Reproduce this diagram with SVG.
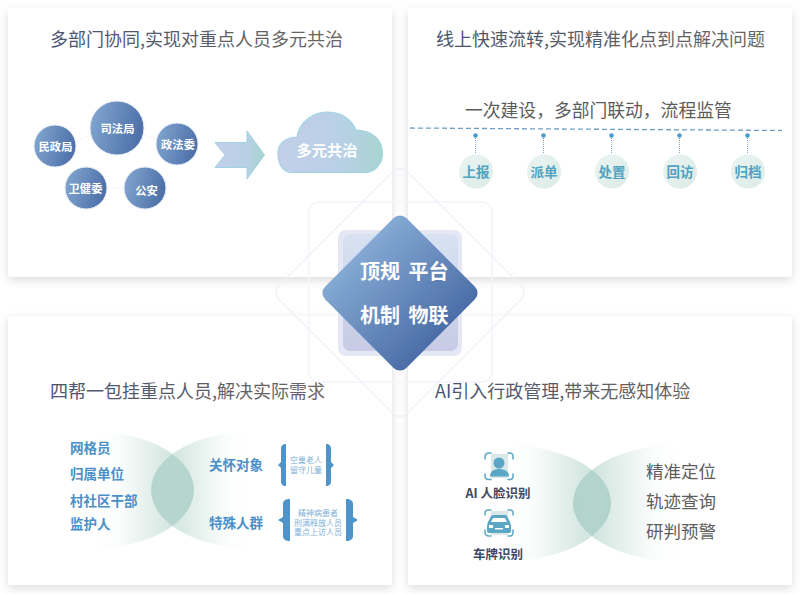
<svg xmlns="http://www.w3.org/2000/svg" width="800" height="594" viewBox="0 0 800 594">
<style>
text{font-family:"Noto Sans CJK SC","Noto Sans",sans-serif}
.card{fill:#fff;filter:url(#sh)}
.title{font-size:18px;fill:url(#tg)}
.bub{fill:url(#bg);stroke:#e6edf6;stroke-width:1}
.bt{fill:#fff;font-size:11.300px;font-weight:700;text-anchor:middle}
.dot{fill:#4a9bd0}
.stem{stroke:#7fa9c8;stroke-width:1;stroke-dasharray:1 1}
.step{fill:url(#sg)}
.st{font-size:13.500px;fill:#4fa3c2;text-anchor:middle;font-weight:700}
.bl{font-size:13.500px;font-weight:700;fill:#4a90c8}
.sm{font-size:8px;fill:#80b1d8;text-anchor:middle}
.br{fill:#4f94c9}
.dk{font-size:12.500px;font-weight:700;fill:#3e4a66;text-anchor:middle}
.gr{font-size:17.500px;fill:#5e5e5e}
.cw{fill:#fff;font-size:20px;font-weight:700}
.ic{fill:none;stroke:#5aa9c6;stroke-width:1.500;stroke-linecap:round}
.if{fill:#5aa6c4}
</style>
<defs>
<filter id="sh" x="-10%" y="-10%" width="120%" height="120%"><feDropShadow dx="0" dy="3" stdDeviation="5" flood-color="#000" flood-opacity=".14"/></filter>
<linearGradient id="tg" x1="0" x2="1" y1="0" y2="0"><stop offset="0" stop-color="#475472"/><stop offset="1" stop-color="#6b6661"/></linearGradient>
<linearGradient id="bg" x1="0" x2="1" y1="0" y2=".25"><stop offset="0" stop-color="#85a9d2"/><stop offset="1" stop-color="#4f72aa"/></linearGradient>
<linearGradient id="ag" x1="0" x2="1" y1="0" y2="0"><stop offset="0" stop-color="#c3cfe8"/><stop offset=".6" stop-color="#b8d0e6"/><stop offset="1" stop-color="#a8d4d0"/></linearGradient>
<linearGradient id="sg" x1="0" x2="1" y1="0" y2="1"><stop offset="0" stop-color="#e9f4f2"/><stop offset="1" stop-color="#dcece7"/></linearGradient>
<linearGradient id="dg" x1="0" x2="1" y1="0" y2="0"><stop offset="0" stop-color="#84a9d3"/><stop offset="1" stop-color="#4c6ea8"/></linearGradient>
<linearGradient id="qg" x1="0" x2="0" y1="0" y2="1"><stop offset="0" stop-color="#d8e2f2"/><stop offset="1" stop-color="#c7cbe5"/></linearGradient>
<linearGradient id="lf" x1="0" x2="1" y1="0" y2="0"><stop offset="0" stop-color="#8fbfb2" stop-opacity="0"/><stop offset=".25" stop-color="#8fbfb2" stop-opacity=".04"/><stop offset="1" stop-color="#8fbfb2" stop-opacity=".55"/></linearGradient>
<linearGradient id="rf" x1="1" x2="0" y1="0" y2="0"><stop offset="0" stop-color="#8fbfb2" stop-opacity="0"/><stop offset=".25" stop-color="#8fbfb2" stop-opacity=".04"/><stop offset="1" stop-color="#8fbfb2" stop-opacity=".55"/></linearGradient>
</defs>

<g id="cards">
<rect class="card" x="8" y="8" width="384" height="269" rx="3"/>
<rect class="card" x="408" y="8" width="384" height="269" rx="3"/>
<rect class="card" x="8" y="316" width="384" height="269" rx="3"/>
<rect class="card" x="408" y="316" width="384" height="269" rx="3"/>
</g>

<g id="center-backdrop" fill="none">
<rect x="309" y="202" width="183" height="180" rx="10" stroke="#f4f5fb" stroke-width="1.500"/>
<rect x="309.500" y="202" width="181" height="181" rx="10" stroke="#eff1f8" stroke-width="1.500" transform="rotate(45 400 292.500)"/>
</g>

<g id="title-1"><text class="title" x="50" y="46">多部门协同,实现对重点人员多元共治</text></g>
<g id="title-2"><text class="title" x="436" y="46">线上快速流转,实现精准化点到点解决问题</text></g>
<g id="title-3"><text class="title" x="50" y="398">四帮一包挂重点人员,解决实际需求</text></g>
<g id="title-4"><text class="title" x="435" y="398">AI引入行政管理,带来无感知体验</text></g>

<g id="connectors">
<path d="M55 146L117 128L177 144M85 188L145 188" fill="none" stroke="#f5f6f9" stroke-width="1"/>
<path d="M410 128L782 130.500" fill="none" stroke="#6f9fc6" stroke-width="1.300" stroke-dasharray="5 3"/>
<line class="stem" x1="475.500" y1="138" x2="475.500" y2="153"/>
<line class="stem" x1="543.500" y1="138" x2="543.500" y2="153"/>
<line class="stem" x1="611.500" y1="138" x2="611.500" y2="153"/>
<line class="stem" x1="679.500" y1="138" x2="679.500" y2="153"/>
<line class="stem" x1="747.500" y1="138" x2="747.500" y2="153"/>
</g>

<g id="n-sifa"><circle class="bub" cx="117" cy="128" r="27"/><text class="bt" x="117.500" y="132.500">司法局</text></g>
<g id="n-minzheng"><circle class="bub" cx="55" cy="146" r="21"/><text class="bt" x="55.500" y="151">民政局</text></g>
<g id="n-zhengfa"><circle class="bub" cx="177" cy="144" r="21"/><text class="bt" x="178" y="148.500">政法委</text></g>
<g id="n-weijian"><circle class="bub" cx="86" cy="188" r="21"/><text class="bt" x="85.500" y="193">卫健委</text></g>
<g id="n-gongan"><circle class="bub" cx="145" cy="188" r="21"/><text class="bt" x="146.500" y="195">公安</text></g>
<g id="arrow"><path d="M215 142.500H247V131L264.500 155L247 179V167.500H215L225 155Z" fill="url(#ag)" stroke="#9fd3e4" stroke-width="1"/></g>
<g id="cloud"><path d="M291 172.500C282 172 278 163 278 153C278 144 285 137 297 137C299 122 313 112 327 112C341 112 351 119 356 130C372 130 382.500 140 382.500 153C382.500 164 375 172.500 365 172.500Z" fill="url(#ag)" stroke="#9fd5e5" stroke-width="1.200"/><text x="327" y="156" font-size="15.300" font-weight="700" fill="#fff" text-anchor="middle">多元共治</text></g>

<g id="subtitle"><text x="465" y="117" font-size="17.800" fill="#5c5c5c">一次建设&#xFF0C;多部门联动&#xFF0C;流程监管</text></g>
<g id="step-1"><circle class="dot" cx="475.500" cy="135.500" r="2.300"/><circle class="step" cx="476" cy="171.500" r="17"/><text class="st" x="476" y="176.500">上报</text></g>
<g id="step-2"><circle class="dot" cx="543.500" cy="135.500" r="2.300"/><circle class="step" cx="544" cy="171.500" r="17"/><text class="st" x="544" y="176.500">派单</text></g>
<g id="step-3"><circle class="dot" cx="611.500" cy="135.500" r="2.300"/><circle class="step" cx="612" cy="171.500" r="17"/><text class="st" x="612" y="176.500">处置</text></g>
<g id="step-4"><circle class="dot" cx="679.500" cy="135.500" r="2.300"/><circle class="step" cx="680" cy="171.500" r="17"/><text class="st" x="680" y="176.500">回访</text></g>
<g id="step-5"><circle class="dot" cx="747.500" cy="135.500" r="2.300"/><circle class="step" cx="748" cy="171.500" r="17"/><text class="st" x="748" y="176.500">归档</text></g>

<g id="center-square"><rect x="338" y="230" width="124" height="126" rx="8" fill="#e5e8f4"/><rect x="343" y="234" width="115" height="117" rx="7" fill="url(#qg)"/></g>
<g id="center-diamond">
<rect x="342.500" y="235.500" width="115" height="115" rx="9" fill="url(#dg)" transform="rotate(45 400 293)"/>
<text class="cw" x="360" y="279">顶规</text><text class="cw" x="408.500" y="279">平台</text>
<text class="cw" x="360" y="323">机制</text><text class="cw" x="408.500" y="323">物联</text>
</g>

<g id="venn-left">
<path d="M95 432A99 58 0 0 1 95 548Z" fill="url(#lf)"/>
<path d="M250 432A99 58 0 0 0 250 548Z" fill="url(#rf)"/>
</g>
<g id="l-list">
<text class="bl" x="70" y="453">网格员</text><text class="bl" x="70" y="479">归属单位</text><text class="bl" x="70" y="506">村社区干部</text><text class="bl" x="70" y="529">监护人</text>
</g>
<g id="l-care"><text class="bl" x="209" y="470">关怀对象</text>
<path class="br" d="M286 444C282.500 444 281 445.500 281 449V462L278 465L281 468V481C281 484.500 282.500 486 286 486Z"/>
<path class="br" d="M326 444C329.500 444 331 445.500 331 449V462L334 465L331 468V481C331 484.500 329.500 486 326 486Z"/>
<text class="sm" x="306" y="463">空巢老人</text><text class="sm" x="306" y="473">留守儿童</text></g>
<g id="l-special"><text class="bl" x="209" y="528">特殊人群</text>
<path class="br" d="M290 499C285.500 499 283 500.500 283 504V517L278 520L283 523V536C283 539.500 285.500 541 290 541Z"/>
<path class="br" d="M346 499C350.500 499 353 500.500 353 504V517L358 520L353 523V536C353 539.500 350.500 541 346 541Z"/>
<text class="sm" x="318" y="516">精神病患者</text><text class="sm" x="318" y="525.500">刑满释放人员</text><text class="sm" x="318" y="535">重点上访人员</text></g>

<g id="venn-right">
<path d="M505 445A106 58 0 0 1 505 561Z" fill="url(#lf)"/>
<path d="M678 445A105 58 0 0 0 678 561Z" fill="url(#rf)"/>
</g>
<g id="face-id">
<rect x="491" y="454" width="17" height="24" fill="#dbe8ea"/>
<path class="ic" d="M485 459V457Q485 453 489 453H491M508 453H510Q513 453 513 457V459M485 474V476Q485 479.500 489 479.500H491M508 479.500H510Q513 479.500 513 476V474"/>
<circle class="if" cx="499" cy="463" r="5.500"/><path class="if" d="M490 476.500C490 471 494 469 499 469C504 469 509 471 509 476.500Z"/>
<text class="dk" x="498" y="498">AI 人脸识别</text></g>
<g id="plate-id">
<rect x="491" y="511" width="17" height="24" fill="#dbe8ea"/>
<path class="ic" d="M485 515V513Q485 510 489 510H491M508 510H510Q513 510 513 513V515M485 530V532Q485 536 489 536H491M508 536H510Q513 536 513 532V530"/>
<path class="if" d="M493 515H505Q507 515 508 518L510 522Q511 524 511 527V531Q511 533 509 533H489Q487 533 487 531V527Q487 524 488 522L490 518Q491 515 493 515Z"/>
<path d="M493 518H505L507 522H491Z" fill="#fff"/><rect x="489" y="525" width="4" height="3" fill="#fff"/><rect x="505" y="525" width="4" height="3" fill="#fff"/><rect x="495" y="528" width="8" height="1.500" fill="#fff"/>
<text class="dk" x="498" y="559">车牌识别</text></g>
<g id="ai-list">
<text class="gr" x="646" y="478">精准定位</text><text class="gr" x="646" y="508">轨迹查询</text><text class="gr" x="646" y="538">研判预警</text>
</g>
</svg>
